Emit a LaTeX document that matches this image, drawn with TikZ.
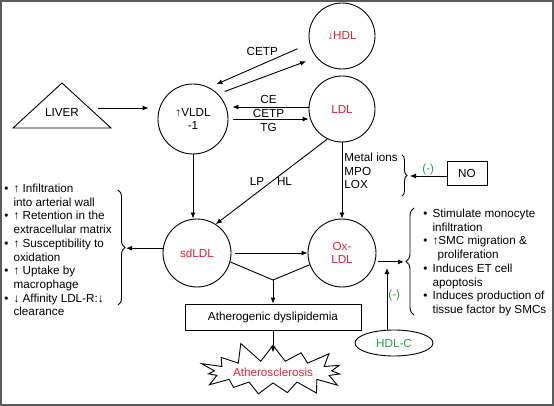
\documentclass[tikz,border=0pt]{standalone}
\usepackage{fontspec}
\setmainfont{Liberation Sans}
\usetikzlibrary{arrows.meta,shapes.geometric,shapes.symbols,decorations.pathreplacing}
\definecolor{lipred}{RGB}{222,36,56}
\definecolor{inhgreen}{RGB}{40,160,70}
\definecolor{framegray}{RGB}{90,90,90}
\begin{document}
\begin{tikzpicture}
  [x=1pt,y=1pt,>={Latex[length=6pt,width=5pt]},line width=0.9pt,
   every node/.style={font=\fontsize{11.7}{13.7}\selectfont,inner sep=1pt},
   pool/.style={draw,circle,align=center},
   redpool/.style={pool,text=lipred},
   boxed/.style={draw,rectangle},
   brc/.style={decorate,decoration={brace,amplitude=#1}},
   inhib/.style={text=inhgreen}]
  \useasboundingbox (0,0) rectangle (554,-406);
  \draw[framegray,line width=2pt] (1,-1) rectangle (553,-405);

  \node[redpool,minimum size=66pt] (hdl) at (342,-36) {↓HDL};
  \node[redpool,minimum size=66pt] (ldl) at (342,-109) {LDL};
  \node[pool,minimum size=70pt] (vldl) at (193,-119) {↑VLDL\\-1};
  \node[redpool,minimum size=68pt] (sdldl) at (197,-253) {sdLDL};
  \node[redpool,minimum size=68pt] (oxldl) at (342,-253) {Ox-\\LDL};
  \node (liver) at (62,-112) {LIVER};
  \draw (13,-128) -- (62,-83) -- (111,-128) -- cycle;
  \coordinate (liverout) at (98,-108);
  \node[boxed,minimum width=40pt,minimum height=24pt] (no) at (467,-173) {NO};
  \node[boxed,minimum width=176pt,minimum height=26pt] (athero) at (273,-317) {Atherogenic dyslipidemia};
  \node[starburst,draw,text=lipred,starburst points=15,starburst point height=21pt,
        random starburst=11,minimum width=160pt,minimum height=64pt] (sclerosis) at (273,-372) {Atherosclerosis};
  \node[ellipse,draw,inhib,minimum width=78pt,minimum height=26pt] (hdlc) at (394,-343) {HDL-C};
  \node[anchor=west,align=left] (oxagents) at (343,-171) {Metal ions\\MPO\\LOX};

  \node[anchor=north west,inner sep=0pt] (sdeffects) at (4,-182.5) {%
    \begin{tabular}{@{}l@{\hspace{5pt}}l@{}}
    \textbullet & ↑ Infiltration\\
     & into arterial wall\\
    \textbullet & ↑ Retention in the\\
     & extracellular matrix\\
    \textbullet & ↑ Susceptibility to\\
     & oxidation\\
    \textbullet & ↑ Uptake by\\
     & macrophage\\
    \textbullet & ↓ Affinity LDL-R:↓\\
     & clearance
    \end{tabular}};
  \node[anchor=north west,inner sep=0pt] (oxeffects) at (423,-207.5) {%
    \begin{tabular}{@{}l@{\hspace{5pt}}l@{}}
    \textbullet & Stimulate monocyte\\
     & infiltration\\
    \textbullet & ↑SMC migration \&\\
     & \hspace{5pt}proliferation\\
    \textbullet & Induces ET cell\\
     & apoptosis\\
    \textbullet & Induces production of\\
     & tissue factor by SMCs
    \end{tabular}};

  \draw[brc=7pt] (118,-190) -- (118,-305);
  \coordinate (lbtip) at (126,-248);
  \draw[brc=5pt] (402,-155) -- (402,-196);
  \coordinate (mtip) at (410,-176);
  \draw[brc=8pt] (414,-315) -- (414,-208);
  \coordinate (rbtip) at (404,-262);
  \coordinate (vjoin) at (273,-280);

  \draw[->,shorten >=9pt] (liverout) -- (liverout -| vldl.west);
  \draw[->,shorten <=13pt,shorten >=8pt] (hdl.193) -- (vldl.63)
    node[pos=.3,above left] {CETP};
  \draw[->,shorten <=7pt,shorten >=11pt] (vldl.45) -- (hdl.220);
  \draw[->,shorten >=4pt] ([yshift=2pt]ldl.west) -- ([yshift=2pt]ldl.west -| vldl.east)
    node[midway,above=1.5pt] {CE};
  \draw[->,shorten <=5pt] (vldl.east) -- (vldl.east -| ldl.west)
    node[midway,above] {CETP} node[midway,below=3pt] {TG};
  \draw[->] (vldl.south) -- (vldl.south |- sdldl.north);
  \draw[->] (ldl.244) -- (sdldl.57)
    node[midway,left=6pt] {LP} node[midway,right=4pt] {HL};
  \draw[->] (ldl.south) -- (oxldl.north);
  \draw[->] (no.west |- mtip) -- (mtip)
    node[midway,above,inhib] {(-)};
  \draw[->,shorten <=4pt] (sdldl.east) -- (oxldl.west);
  \draw[->] (sdldl.172) -- (sdldl.172 -| lbtip);
  \draw (sdldl.-15) -- (vjoin) -- (oxldl.200);
  \draw[->] (vjoin) -- (vjoin |- athero.north);
  \draw[->] (athero.south) -- ([yshift=-22pt]athero.south);
  \draw[->,shorten <=3pt] (oxldl.-15) -- (oxldl.-15 -| rbtip);
  \draw[->,shorten >=6pt] ([xshift=-7pt]hdlc.north) -- ([xshift=-7pt]hdlc.north |- rbtip)
    node[midway,right,inhib] {(-)};
\end{tikzpicture}
\end{document}
